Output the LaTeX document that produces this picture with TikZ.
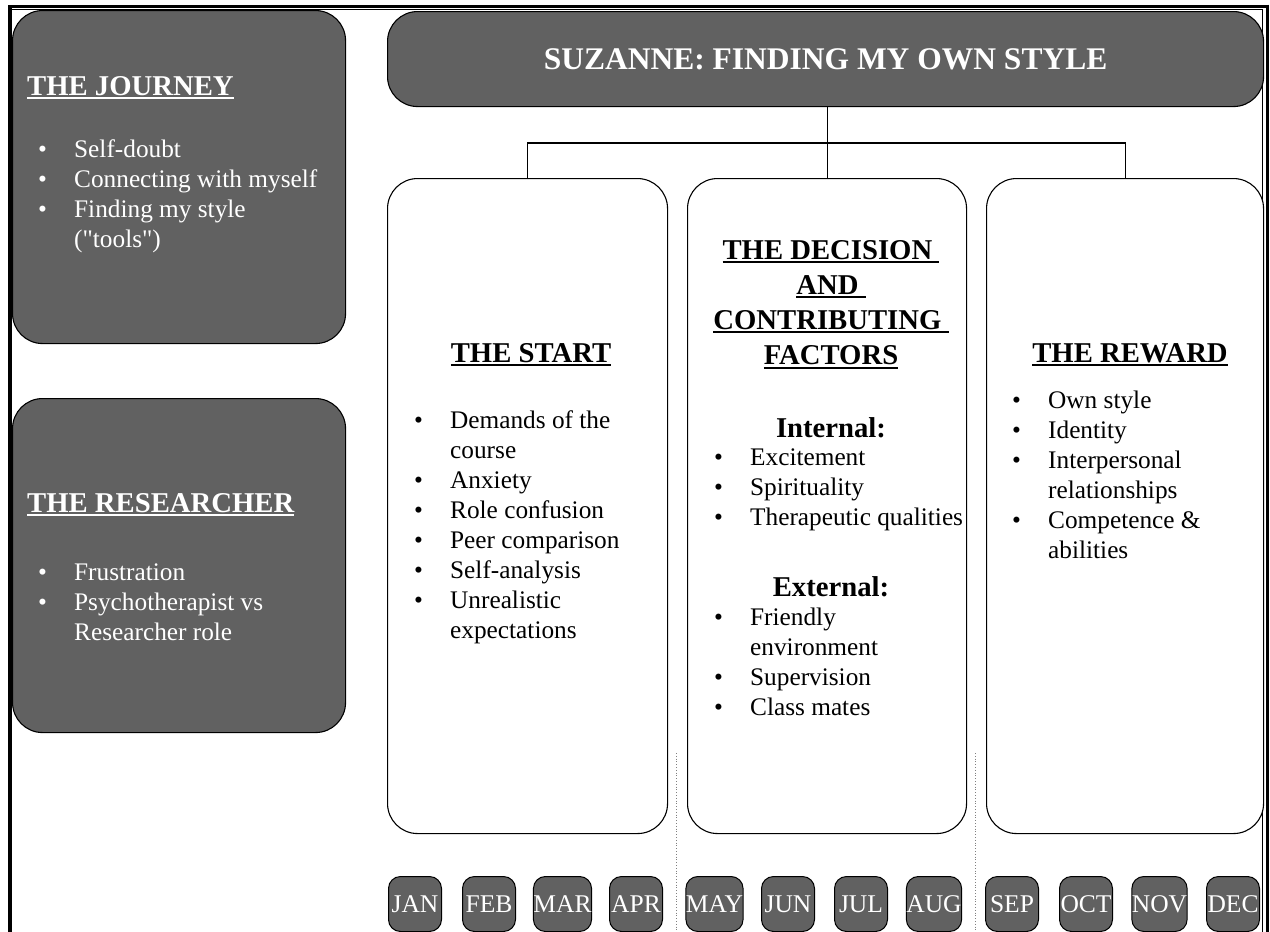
\documentclass[tikz,border=0pt]{standalone}
\usepackage{fontspec}
\setmainfont{Liberation Serif}
% same face without the TeX quote mapping, for straight quotation marks
\newfontfamily\qfont{Liberation Serif}
\definecolor{boxgray}{RGB}{97,97,97}
% underlined heading text with a heavier rule
\newcommand{\hdline}[1]{\setbox0=\hbox{#1}\rlap{\rule[-3.6pt]{\wd0}{1.8pt}}\box0}
% bullet item / continuation line indents
\newcommand{\itmB}{\makebox[36pt][l]{\textbullet}}
\newcommand{\itmC}{\hspace*{36pt}}
\tikzset{
  darkbox/.style={draw=black, line width=1.1pt, fill=boxgray, rounded corners=30pt,
    inner sep=0pt, anchor=north west},
  lightbox/.style={draw=black, line width=1.1pt, fill=white, rounded corners=30pt,
    inner sep=0pt, anchor=north west},
  monthbox/.style={draw=black, line width=1pt, fill=boxgray, rounded corners=12pt,
    minimum width=53pt, minimum height=55pt, inner sep=0pt, anchor=north,
    text=white, font=\fontsize{25.5}{30}\selectfont},
  head/.style={font=\fontsize{28.7}{35.3}\selectfont\bfseries, inner sep=0pt, anchor=base},
  body/.style={font=\fontsize{25.3}{30}\selectfont, inner sep=0pt, anchor=base west},
  link/.style={draw=black, line width=1.1pt},
  sepline/.style={draw=gray, dotted, line width=0.8pt},
  frame/.style={draw=black},
}
\begin{document}
\begin{tikzpicture}[x=1pt,y=-1pt]
\useasboundingbox (0,0) rectangle (1270,932);
\fill[white] (0,0) rectangle (1270,932);

% page frame
\draw[frame, line width=3pt] (8,6) -- (1268.5,6);
\draw[frame, line width=1pt] (10,9.5) -- (1263,9.5);
\draw[frame, line width=4pt] (10,7.5) -- (10,932);
\draw[frame, line width=3pt] (1267,4.5) -- (1267,932);
\draw[frame, line width=1pt] (1262.8,9) -- (1262.8,932);

% side panels
\node[darkbox, minimum width=333pt, minimum height=333pt] (journey) at (12,10) {};
\node[head, text=white, anchor=base west] (journeyhead) at (27,95) {\hdline{THE JOURNEY}};
\node[body, text=white] (journeylist) at (38,157) {\begin{tabular}[t]{@{}l@{}}
  \itmB Self-doubt\\
  \itmB Connecting with myself\\
  \itmB Finding my style\\
  \itmC ({\qfont"}tools{\qfont"})
\end{tabular}};

\node[darkbox, minimum width=333pt, minimum height=334pt] (researcher) at (12,398) {};
\node[head, text=white, anchor=base west] (researcherhead) at (27,512) {\hdline{THE RESEARCHER}};
\node[body, text=white] (researcherlist) at (38,580) {\begin{tabular}[t]{@{}l@{}}
  \itmB Frustration\\
  \itmB Psychotherapist vs\\
  \itmC Researcher role
\end{tabular}};

% title
\node[darkbox, minimum width=876pt, minimum height=95pt, text=white,
      font=\fontsize{31.5}{36}\selectfont\bfseries] (title) at (387,11)
      {SUZANNE: FINDING MY OWN STYLE};

% three phases
\node[lightbox, minimum width=280pt, minimum height=655pt] (start) at (387,178) {};
\node[lightbox, minimum width=279pt, minimum height=655pt] (decision) at (687,178) {};
\node[lightbox, minimum width=277pt, minimum height=655pt] (reward) at (986,178) {};

% connectors
\coordinate (bus) at (826.5,143);
\draw[link] (title.south -| decision.north) -- (decision.north);
\draw[link] (start.north) |- (bus) -| (reward.north);

% THE START
\node[head] (starthead) at (531,362) {\hdline{THE START}};
\node[body] (startlist) at (414,428) {\begin{tabular}[t]{@{}l@{}}
  \itmB Demands of the\\
  \itmC course\\
  \itmB Anxiety\\
  \itmB Role confusion\\
  \itmB Peer comparison\\
  \itmB Self-analysis\\
  \itmB Unrealistic\\
  \itmC expectations
\end{tabular}};

% THE DECISION AND CONTRIBUTING FACTORS
\node[head] (dechead) at (831,259) {\begin{tabular}[t]{@{}c@{}}
  \hdline{THE DECISION\ }\\
  \hdline{AND\ }\\
  \hdline{CONTRIBUTING\ }\\
  \hdline{FACTORS}
\end{tabular}};
\node[head] (internal) at (831,437) {Internal:};
\node[body] (internallist) at (714,465) {\begin{tabular}[t]{@{}l@{}}
  \itmB Excitement\\
  \itmB Spirituality\\
  \itmB Therapeutic qualities
\end{tabular}};
\node[head] (external) at (831,596) {External:};
\node[body] (externallist) at (714,625) {\begin{tabular}[t]{@{}l@{}}
  \itmB Friendly\\
  \itmC environment\\
  \itmB Supervision\\
  \itmB Class mates
\end{tabular}};

% THE REWARD
\node[head] (rewardhead) at (1130,362) {\hdline{THE REWARD}};
\node[body] (rewardlist) at (1012,408) {\begin{tabular}[t]{@{}l@{}}
  \itmB Own style\\
  \itmB Identity\\
  \itmB Interpersonal\\
  \itmC relationships\\
  \itmB Competence \&\\
  \itmC abilities
\end{tabular}};

% quarter separators
\coordinate (sepA) at (676,753);
\coordinate (sepB) at (975,753);
\draw[sepline] (sepA) -- (sepA |- 0,932);
\draw[sepline] (sepB) -- (sepB |- 0,932);

% months
\foreach \m/\x [count=\i] in {JAN/415, FEB/489, MAR/562.5, APR/636, MAY/714.5, JUN/788,
    JUL/861, AUG/934, SEP/1012, OCT/1086, NOV/1159.5, DEC/1233}
  \node[monthbox] (month\i) at (\x,876) {\m};
\end{tikzpicture}
\end{document}
